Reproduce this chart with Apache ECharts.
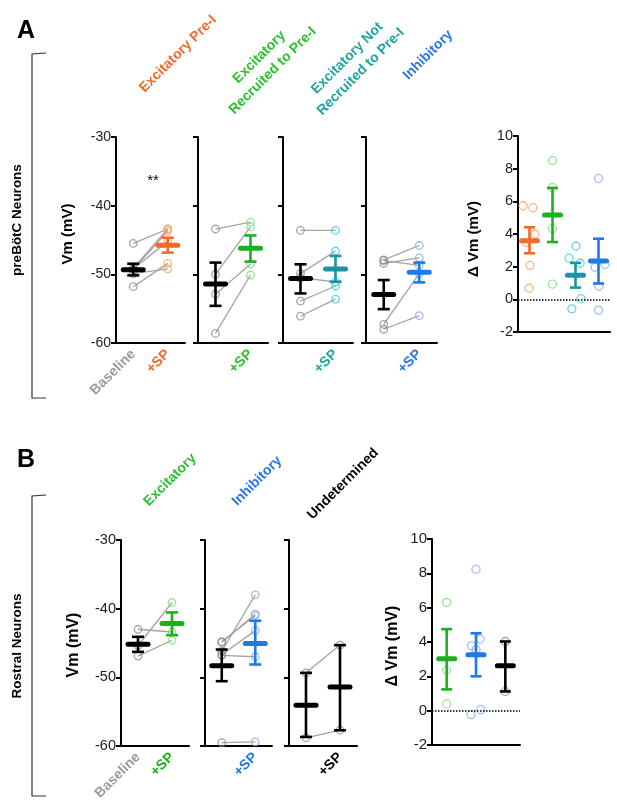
<!DOCTYPE html>
<html><head><meta charset="utf-8">
<script src="https://cdn.jsdelivr.net/npm/echarts@6/dist/echarts.min.js"></script>
<style>html,body{margin:0;padding:0;background:#fff}#c{width:617px;height:808px}</style>
</head><body><div id="c"></div>
<script>
// ---------------- DATA ----------------
const xCats = ['Baseline', '+SP'];
const vmMin = -60, vmMax = -30, vmStep = 10;
const dMin = -2, dMax = 10, dStep = 2;

// Panel A headers
const headersA = ['Excitatory Pre-I', 'Excitatory\nRecruited to Pre-I', 'Excitatory Not\nRecruited to Pre-I', 'Inhibitory'];
const headersB = ['Excitatory', 'Inhibitory', 'Undetermined'];

// Panel A – per-neuron Vm (mV)
const baseA1 = [-45.5, -49.1, -49.3, -51.8, -49.9, -49.2];
const spA1   = [-43.4, -43.4, -43.7, -48.4, -49.2, -45.2];
const baseA2 = [-43.4, -50.0, -52.9, -58.6];
const spA2   = [-42.4, -43.1, -48.5, -50.1];
const baseA3 = [-43.6, -49.9, -50.5, -53.9, -56.1];
const spA3   = [-43.6, -46.6, -51.1, -51.7, -53.6];
const baseA4 = [-47.9, -48.4, -48.0, -57.3, -58.0];
const spA4   = [-45.8, -47.6, -48.7, -49.9, -56.0];
// mean, lower, upper  (baseline, +SP)
const statsA1 = [[-49.32, -50.15, -48.45], [-45.78, -46.84, -44.66]];
const statsA2 = [[-51.41, -54.59, -48.29], [-46.20, -48.15, -44.34]];
const statsA3 = [[-50.59, -52.78, -48.54], [-49.22, -51.07, -47.32]];
const statsA4 = [[-52.93, -55.07, -50.83], [-49.71, -51.17, -48.29]];

// Panel A – ΔVm (mV)
const dA1 = [5.73, 5.61, 4.0, 3.46, 2.08, 0.68];
const dA2 = [8.5, 6.85, 4.33, 0.93];
const dA3 = [2.52, 3.26, 2.21, 0.04, -0.58];
const dA4 = [7.40, 2.14, 1.96, 0.80, -0.66];
const dStatsA = [[3.59, 2.82, 4.41], [5.17, 3.51, 6.82], [1.48, 0.72, 2.23], [2.35, 0.97, 3.71]];

// Panel B – per-neuron Vm (mV)
const baseB1 = [-43.0, -45.4, -46.9];
const spB1   = [-43.4, -39.1, -44.6];
const baseB2 = [-46.2, -44.9, -44.8, -46.7, -46.8, -59.5];
const spB2   = [-38.0, -40.8, -41.0, -43.2, -47.0, -59.4];
const baseB3 = [-49.35, -58.8];
const spB3   = [-45.3, -57.7];
const statsB1 = [[-45.17, -46.29, -44.10], [-42.15, -43.86, -40.55]];
const statsB2 = [[-48.33, -50.56, -45.95], [-45.07, -48.13, -41.76]];
const statsB3 = [[-54.06, -58.68, -49.35], [-51.39, -57.71, -45.31]];

// Panel B – ΔVm (mV)
const dB1 = [6.30, 2.35, 0.39];
const dB2 = [8.24, 4.17, 3.78, 3.55, -0.23, 0.06];
const dB3 = [4.03, 1.12];
const dStatsB = [[3.02, 1.24, 4.75], [3.26, 2.0, 4.51], [2.62, 1.12, 4.03]];

// ---------------- STYLE / LAYOUT ----------------
const FONT = '"Liberation Sans", Arial, Helvetica, sans-serif';
const C = {
  orange: '#F26A24', orangeL: '#F7A463', orangeT: '#F26A2A',
  green: '#1DB01D', greenL: '#7CDE7C', greenT: '#2CC02C',
  teal: '#1A93A6', tealL: '#36CFD6', tealT: '#1FA3A3',
  blue: '#1C7BE6', blueL: '#8CA9EC', blueT: '#2B75E8',
  black: '#000000', gray: '#8E8E8E', line: '#A3A3A3'
};
// jitter offsets (category units) for ΔVm scatter
const jitA = [[-0.28, 0.15, 0.24, -0.13, 0.02, -0.02], [0, 0, 0, 0], [-0.28, 0.02, 0.2, 0.24, -0.16], [0, 0.28, -0.15, 0.02, 0]];
const jitB = [[0, 0, 0], [0, 0.14, -0.15, 0, -0.17, 0.16], [0, 0]];

const layout = [
  {left: 116, top: 137, width: 69, height: 206},
  {left: 198, top: 137, width: 70, height: 206},
  {left: 283, top: 137, width: 70, height: 206},
  {left: 366, top: 137, width: 71, height: 206},
  {left: 518, top: 136, width: 92, height: 196},
  {left: 121, top: 540, width: 68, height: 206},
  {left: 205, top: 540, width: 67, height: 206},
  {left: 289, top: 540, width: 68, height: 206},
  {left: 432, top: 539, width: 88, height: 206}
];

const vmPanels = [
  {g: 0, base: baseA1, sp: spA1, stats: statsA1, col: C.orange, light: C.orangeL, lab: C.orangeT, showBase: true, showY: true, fs: 14},
  {g: 1, base: baseA2, sp: spA2, stats: statsA2, col: C.green, light: C.greenL, lab: C.greenT, showBase: false, showY: false, fs: 14},
  {g: 2, base: baseA3, sp: spA3, stats: statsA3, col: C.teal, light: C.tealL, lab: C.tealT, showBase: false, showY: false, fs: 14},
  {g: 3, base: baseA4, sp: spA4, stats: statsA4, col: C.blue, light: C.blueL, lab: C.blueT, showBase: false, showY: false, fs: 14},
  {g: 5, base: baseB1, sp: spB1, stats: statsB1, col: C.green, light: C.greenL, lab: C.green, showBase: true, showY: true, fs: 14.5},
  {g: 6, base: baseB2, sp: spB2, stats: statsB2, col: C.blue, light: C.blueL, lab: C.blue, showBase: false, showY: false, fs: 14.5},
  {g: 7, base: baseB3, sp: spB3, stats: statsB3, col: C.black, light: C.gray, lab: C.black, showBase: false, showY: false, fs: 14.5}
];
const dPanels = [
  {g: 4, sets: [dA1, dA2, dA3, dA4], jit: jitA, stats: dStatsA, cols: [C.orange, C.green, C.teal, C.blue], lights: [C.orangeL, C.greenL, C.tealL, C.blueL], fs: 14.5},
  {g: 8, sets: [dB1, dB2, dB3], jit: jitB, stats: dStatsB, cols: [C.green, C.blue, C.black], lights: [C.greenL, C.blueL, C.gray], fs: 15}
];

// ---------------- BUILD ----------------
const grid = layout.map(l => Object.assign({outerBoundsMode: 'none', containLabel: false}, l));
const xAxis = new Array(layout.length), yAxis = new Array(layout.length), series = [];

function meanSeries(g, data, colors, barW, capW) {
  return {
    type: 'custom', xAxisIndex: g, yAxisIndex: g, z: 6, silent: true, animation: false,
    encode: {x: 0, y: 1},
    data: data,
    renderItem: function (params, api) {
      const x = api.value(0), m = api.value(1), lo = api.value(2), hi = api.value(3);
      const pm = api.coord([x, m]), pl = api.coord([x, lo]), ph = api.coord([x, hi]);
      const c = colors[params.dataIndex];
      const cx = pm[0], lw = 2.6, th = 5;
      return {type: 'group', children: [
        {type: 'line', shape: {x1: cx, y1: pl[1], x2: cx, y2: ph[1]}, style: {stroke: c, lineWidth: lw}},
        {type: 'line', shape: {x1: cx - capW / 2, y1: pl[1], x2: cx + capW / 2, y2: pl[1]}, style: {stroke: c, lineWidth: lw}},
        {type: 'line', shape: {x1: cx - capW / 2, y1: ph[1], x2: cx + capW / 2, y2: ph[1]}, style: {stroke: c, lineWidth: lw}},
        {type: 'rect', shape: {x: cx - barW / 2, y: pm[1] - th / 2, width: barW, height: th, r: th / 2}, style: {fill: c}}
      ]};
    }
  };
}

function yAx(g, min, max, step, showLabel, fs) {
  return {
    type: 'value', gridIndex: g, min: min, max: max, interval: step,
    axisLine: {show: true, onZero: false, lineStyle: {color: '#000', width: 2}},
    axisTick: {show: true, inside: false, length: 5, lineStyle: {color: '#000', width: 2}},
    axisLabel: {show: showLabel, fontSize: fs, color: '#222', margin: 5, fontFamily: FONT},
    splitLine: {show: false}
  };
}

vmPanels.forEach(p => {
  xAxis[p.g] = {
    type: 'category', gridIndex: p.g, data: xCats, boundaryGap: true,
    axisLine: {show: true, onZero: false, lineStyle: {color: '#000', width: 2}},
    axisTick: {show: false},
    axisLabel: {
      show: true, rotate: 45, margin: 9, interval: 0,
      formatter: v => v === xCats[0] ? (p.showBase ? '{b|' + v + '}' : '') : '{s|' + v + '}',
      rich: {
        b: {color: '#9A9A9A', fontWeight: 'bold', fontSize: 14, fontFamily: FONT},
        s: {color: p.lab, fontWeight: 'bold', fontSize: 14, fontFamily: FONT}
      }
    },
    splitLine: {show: false}
  };
  yAxis[p.g] = yAx(p.g, vmMin, vmMax, vmStep, p.showY, p.fs);
  p.base.forEach((b, i) => {
    series.push({type: 'line', xAxisIndex: p.g, yAxisIndex: p.g, data: [b, p.sp[i]], symbol: 'none',
      lineStyle: {color: C.line, width: 1.3}, z: 2, silent: true, animation: false});
  });
  series.push({type: 'scatter', xAxisIndex: p.g, yAxisIndex: p.g, data: p.base.map(v => [0, v]),
    symbol: 'circle', symbolSize: 7.5, itemStyle: {color: 'rgba(255,255,255,0)', borderColor: C.gray, borderWidth: 1.3},
    z: 3, silent: true, animation: false});
  series.push({type: 'scatter', xAxisIndex: p.g, yAxisIndex: p.g, data: p.sp.map(v => [1, v]),
    symbol: 'circle', symbolSize: 7.5, itemStyle: {color: 'rgba(255,255,255,0)', borderColor: p.light, borderWidth: 1.3},
    z: 3, silent: true, animation: false});
  series.push(meanSeries(p.g, p.stats.map((s, i) => [i, s[0], s[1], s[2]]), [C.black, p.col], 25, 12));
});

dPanels.forEach(p => {
  const n = p.sets.length;
  xAxis[p.g] = {
    type: 'value', gridIndex: p.g, min: -0.5, max: n - 0.5,
    axisLine: {show: true, onZero: false, lineStyle: {color: '#000', width: 2}},
    axisTick: {show: false}, axisLabel: {show: false}, splitLine: {show: false}
  };
  yAxis[p.g] = yAx(p.g, dMin, dMax, dStep, true, p.fs);
  p.sets.forEach((vals, k) => {
    const s = {type: 'scatter', xAxisIndex: p.g, yAxisIndex: p.g, data: vals.map((v, j) => [k + p.jit[k][j], v]),
      symbol: 'circle', symbolSize: 8, itemStyle: {color: 'rgba(255,255,255,0)', borderColor: p.lights[k], borderWidth: 1.3},
      z: 3, silent: true, animation: false};
    if (k === 0) {
      s.markLine = {silent: true, symbol: ['none', 'none'], label: {show: false}, animation: false,
        lineStyle: {type: 'dotted', color: '#000', width: 1.5}, data: [{yAxis: 0}]};
    }
    series.push(s);
  });
  series.push(meanSeries(p.g, p.stats.map((s, i) => [i, s[0], s[1], s[2]]), p.cols, 21, 11));
});

// ---------------- TEXT / GRAPHICS ----------------
function txt(x, y, text, opt) {
  opt = opt || {};
  return {type: 'text', x: x, y: y, rotation: opt.rot || 0, silent: true, z: 10,
    style: {text: text, fill: opt.color || '#000', fontFamily: FONT, fontSize: opt.size || 14,
      fontWeight: opt.weight || 'bold', align: opt.align || 'center', verticalAlign: 'middle', lineHeight: opt.lh || 19}};
}
const R45 = Math.PI / 4, R90 = Math.PI / 2;
const graphic = [
  txt(17, 31, 'A', {size: 25, align: 'left'}),
  txt(17, 460, 'B', {size: 25, align: 'left'}),
  {type: 'polyline', silent: true, shape: {points: [[46, 53], [32, 54], [32, 398], [46, 398]]}, style: {stroke: '#333', lineWidth: 1.2, fill: null}},
  {type: 'polyline', silent: true, shape: {points: [[46, 495], [32, 496], [32, 796], [46, 796]]}, style: {stroke: '#333', lineWidth: 1.2, fill: null}},
  txt(17, 220, 'preBötC Neurons', {size: 13.5, rot: R90}),
  txt(17, 646, 'Rostral Neurons', {size: 13.5, rot: R90}),
  txt(68, 234, 'Vm (mV)', {size: 15, rot: R90}),
  txt(74, 645, 'Vm (mV)', {size: 16, rot: R90}),
  txt(474, 239, 'Δ Vm (mV)', {size: 15, rot: R90}),
  txt(393, 646, 'Δ Vm (mV)', {size: 16, rot: R90}),
  txt(178, 54, headersA[0], {color: C.orangeT, rot: R45}),
  txt(266, 64, headersA[1], {color: C.greenT, rot: R45}),
  txt(354, 65, headersA[2], {color: C.tealT, rot: R45}),
  txt(428, 55, headersA[3], {color: C.blueT, rot: R45}),
  txt(170, 480, headersB[0], {color: C.greenT, rot: R45}),
  txt(257, 481, headersB[1], {color: C.blueT, rot: R45}),
  txt(343, 484, headersB[2], {color: '#000', rot: R45}),
  txt(153, 181, '**', {size: 15, weight: 'normal'})
];

const chart = echarts.init(document.getElementById('c'), null, {renderer: 'canvas'});
chart.setOption({
  animation: false,
  backgroundColor: '#fff',
  textStyle: {fontFamily: FONT},
  grid: grid, xAxis: xAxis, yAxis: yAxis, series: series, graphic: graphic
});
</script></body></html>
